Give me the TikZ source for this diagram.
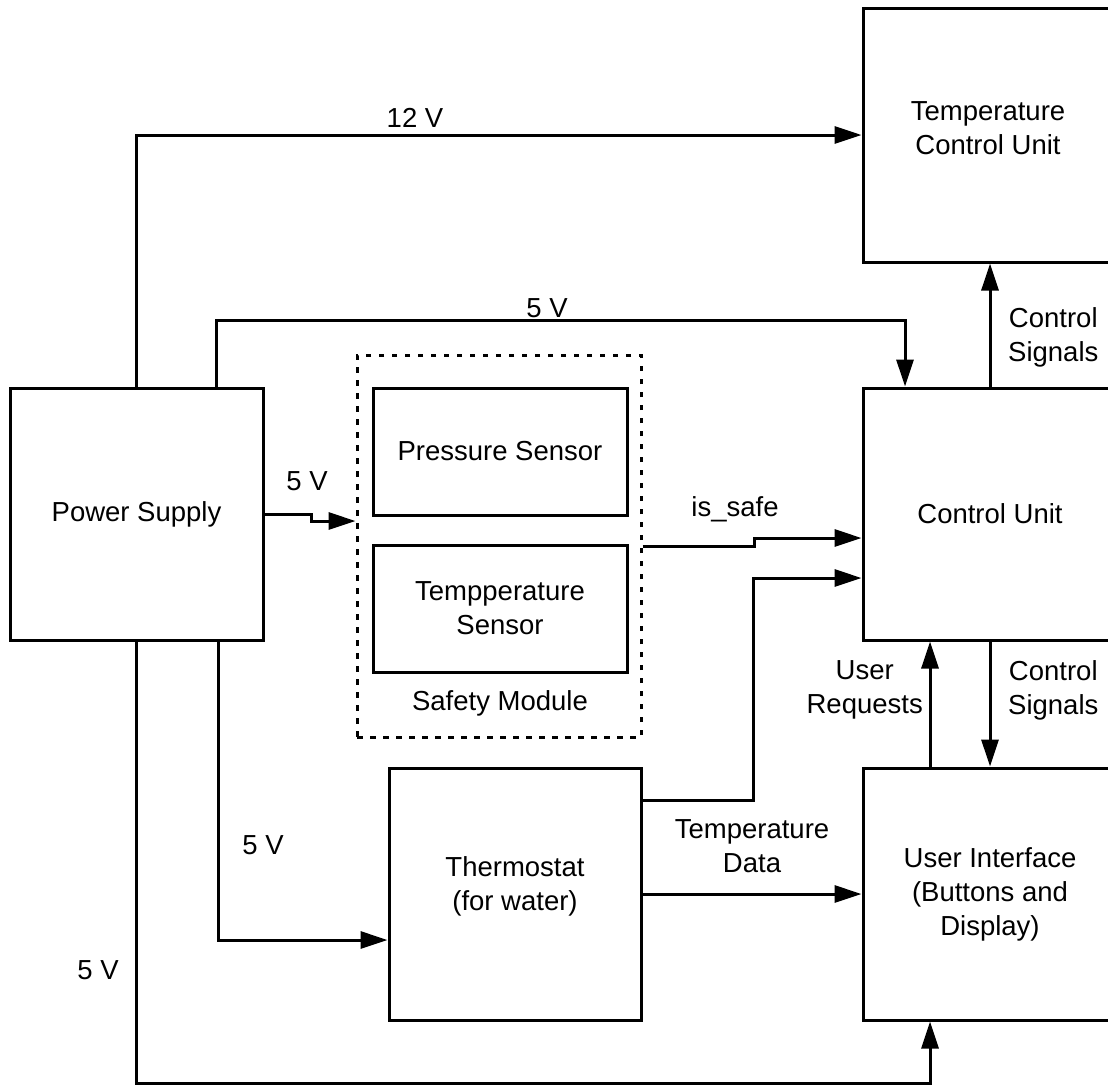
\documentclass[tikz,border=0pt]{standalone}
\usepackage{fontspec}
\setmainfont{Liberation Sans}
\usetikzlibrary{arrows.meta}
\begin{document}
\begin{tikzpicture}[x=1pt,y=-1pt,
  every node/.style={font=\fontsize{27.5}{34}\selectfont, align=center},
  box/.style={draw, line width=3pt, inner sep=0pt, minimum width=#1},
  box/.default=253pt,
  arr/.style={line width=3pt, -{Triangle[length=27pt,width=17pt]}},
  lbl/.style={inner sep=0pt}
]
\useasboundingbox (0,0) rectangle (1108,1084);
\clip (0,0) rectangle (1108,1084);
% boxes
\node[box, minimum height=252pt] (ps) at (136.5,514) {Power Supply};
\node[box=254pt, minimum height=254pt] (tcu) at (990,135) {};
\node[lbl] (tcutxt) at (988,128) {Temperature\\Control Unit};
\node[box=254pt, minimum height=252pt] (cu) at (990,514) {Control Unit};
\node[box=254pt, minimum height=252pt] (ui) at (990,894) {User Interface\\(Buttons and\\Display)};
\node[draw, line width=3pt, dash pattern=on 5.5pt off 7.5pt, minimum width=284pt, minimum height=382pt, inner sep=0pt] (sm) at (499,546) {};
\node[box=254pt, minimum height=127pt] (pres) at (500,451.5) {Pressure Sensor};
\node[box=254pt, minimum height=127pt] (tsens) at (500,608.5) {Tempperature\\Sensor};
\node[box=252pt, minimum height=252pt] (thermo) at (515,894) {};
\node[lbl] (thermotxt) at (515,886) {Thermostat\\(for water)};
\node[lbl] (smlbl) at (500,703) {Safety Module};
% connectors
\draw[arr] (ps.north) |- (tcu.west);
\draw[arr] ([xshift=80pt]ps.north) -- ++(0,-66) -| ([xshift=-85pt]cu.north);
\draw[arr] (ps.east) -- ++(47,0) -- ++(0,7) -- ([yshift=25pt]sm.west);
\draw[arr] (sm.east) -- ++(112,0) -- ++(0,-8) -- ([yshift=-24pt]cu.west);
\draw[arr] ([yshift=94pt]thermo.east) -- ++(111,0) |- ([yshift=-64pt]cu.west);
\draw[arr] (thermo.east) -- (ui.west);
\draw[arr] (cu.north) -- (tcu.south);
\draw[arr] ([xshift=-60pt]ui.north) -- ([xshift=-60pt]cu.south);
\draw[arr] (cu.south) -- (ui.north);
\draw[arr] ([xshift=82pt]ps.south) |- ([yshift=-46pt]thermo.west);
\draw[arr] (ps.south) -- ++(0,442) -| ([xshift=-60pt]ui.south);
% labels
\node[lbl] (l12) at (415,118) {12 V};
\node[lbl] (l5a) at (547,308) {5 V};
\node[lbl] (l5b) at (307,481) {5 V};
\node[lbl] (lsafe) at (735,509) {is\_safe};
\node[lbl] (ltd) at (752,846) {Temperature\\Data};
\node[lbl, anchor=west] (lcs1) at (1008,337) {Control\\Signals};
\node[lbl, anchor=east] (lur) at (923,690) {User\\Requests};
\node[lbl, anchor=west] (lcs2) at (1008,690) {Control\\Signals};
\node[lbl] (l5c) at (263,845) {5 V};
\node[lbl] (l5d) at (98,970) {5 V};
\end{tikzpicture}
\end{document}
